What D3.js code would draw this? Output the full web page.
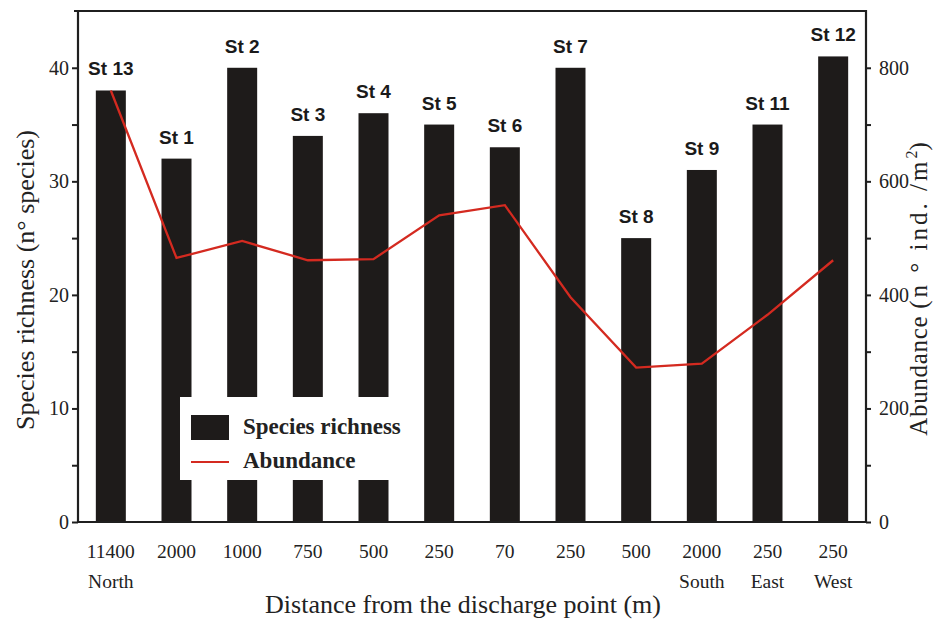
<!DOCTYPE html>
<html>
<head>
<meta charset="utf-8">
<script src="https://cdn.jsdelivr.net/npm/d3@7"></script>
<style>
  html, body { margin: 0; padding: 0; background: #fff; }
  svg { display: block; }
</style>
</head>
<body>
<svg id="chart" width="934" height="621"></svg>
<script>
// ---- data ----
const stations = ["St 13", "St 1", "St 2", "St 3", "St 4", "St 5", "St 6", "St 7", "St 8", "St 9", "St 11", "St 12"];
const distances = ["11400", "2000", "1000", "750", "500", "250", "70", "250", "500", "2000", "250", "250"];
const directions = ["North", "", "", "", "", "", "", "", "", "South", "East", "West"];
const speciesRichness = [38, 32, 40, 34, 36, 35, 33, 40, 25, 31, 35, 41];
const abundance = [760, 465, 495, 461, 463, 540, 558, 396, 272, 279, 365, 461];
const leftTicks = [0, 10, 20, 30, 40];
const leftMinor = [5, 15, 25, 35];
const rightTicks = [0, 200, 400, 600, 800];
const rightMinor = [100, 300, 500, 700];

// ---- layout ----
const L = 78, R = 866, T = 11, B = 522;
const svg = d3.select("#chart");
const axisColor = "#1f1f1f";
const barColor = "#1e1b1a";
const lineColor = "#d42a20";
const serif = "'Liberation Serif', 'Times New Roman', serif";
const sans = "'Liberation Sans', Arial, sans-serif";

const x = d3.scaleBand().domain(d3.range(stations.length)).range([L, R]).padding(0);
const barW = 30;
const yL = d3.scaleLinear().domain([0, 45]).range([B, T]);
const yR = d3.scaleLinear().domain([0, 900]).range([B, T]);
const cx = i => x(i) + x.bandwidth() / 2;

// bars
svg.append("g").selectAll("rect").data(speciesRichness).join("rect")
  .attr("x", (d, i) => cx(i) - barW / 2)
  .attr("width", barW)
  .attr("y", d => yL(d))
  .attr("height", d => yL(0) - yL(d))
  .attr("fill", barColor);

// station labels
svg.append("g").selectAll("text").data(speciesRichness).join("text")
  .attr("x", (d, i) => cx(i))
  .attr("y", d => yL(d) - 15)
  .attr("text-anchor", "middle")
  .attr("font-family", sans)
  .attr("font-weight", "bold")
  .attr("font-size", 19)
  .attr("fill", "#1a1a1a")
  .text((d, i) => stations[i]);

// abundance line
const line = d3.line().x((d, i) => cx(i)).y(d => yR(d));
svg.append("path").datum(abundance)
  .attr("d", line)
  .attr("fill", "none")
  .attr("stroke", lineColor)
  .attr("stroke-width", 2.3)
  .attr("stroke-linejoin", "miter");

// left axis
svg.append("g").attr("transform", `translate(${L},0)`)
  .call(d3.axisLeft(yL).tickValues(leftTicks).tickSize(6).tickPadding(3));
svg.append("g").attr("transform", `translate(${L},0)`)
  .call(d3.axisLeft(yL).tickValues(leftMinor).tickSize(6).tickFormat(""));
// right axis
svg.append("g").attr("transform", `translate(${R},0)`)
  .call(d3.axisRight(yR).tickValues(rightTicks).tickSize(5).tickPadding(8));
svg.append("g").attr("transform", `translate(${R},0)`)
  .call(d3.axisRight(yR).tickValues(rightMinor).tickSize(5).tickFormat(""));

svg.selectAll(".domain").remove();
svg.selectAll(".tick line").attr("stroke", axisColor).attr("stroke-width", 2);
svg.selectAll(".tick text").attr("font-family", serif).attr("font-size", 20).attr("fill", "#222");

// frame lines
svg.append("line").attr("x1", L).attr("x2", L).attr("y1", T).attr("y2", B + 1).attr("stroke", axisColor).attr("stroke-width", 2.2);
svg.append("line").attr("x1", R).attr("x2", R).attr("y1", T - 1).attr("y2", B + 1).attr("stroke", axisColor).attr("stroke-width", 2.2);
svg.append("line").attr("x1", L - 4).attr("x2", R + 1).attr("y1", T).attr("y2", T).attr("stroke", axisColor).attr("stroke-width", 2);
svg.append("line").attr("x1", L).attr("x2", R).attr("y1", B).attr("y2", B).attr("stroke", axisColor).attr("stroke-width", 2);

// x category labels
const xl = svg.append("g");
xl.selectAll("text.d").data(distances).join("text").attr("class", "d")
  .attr("x", (d, i) => cx(i)).attr("y", 558)
  .attr("text-anchor", "middle").attr("font-family", serif).attr("font-size", 19.5).attr("fill", "#222")
  .text(d => d);
xl.selectAll("text.n").data(directions).join("text").attr("class", "n")
  .attr("x", (d, i) => cx(i)).attr("y", 588)
  .attr("text-anchor", "middle").attr("font-family", serif).attr("font-size", 19.5).attr("fill", "#222")
  .text(d => d);

// axis titles
svg.append("text").attr("x", 463).attr("y", 613).attr("text-anchor", "middle")
  .attr("font-family", serif).attr("font-size", 26).attr("fill", "#222")
  .text("Distance from the discharge point (m)");
svg.append("text").attr("transform", "translate(34,280) rotate(-90)").attr("text-anchor", "middle")
  .attr("font-family", serif).attr("font-size", 26).attr("fill", "#222")
  .text("Species richness (n° species)");
const rt = svg.append("text").attr("transform", "translate(927,289) rotate(-90)").attr("text-anchor", "middle")
  .attr("font-family", serif).attr("font-size", 25).attr("fill", "#222");
rt.append("tspan").attr("letter-spacing", 0.7).text("Abundance ");
rt.append("tspan").attr("letter-spacing", 3).text("(n ° ind. /m");
rt.append("tspan").attr("dy", -10).attr("font-size", 16).text("2");
rt.append("tspan").attr("dy", 10).text(")");

// legend
const lg = svg.append("g");
lg.append("rect").attr("x", 180).attr("y", 397).attr("width", 230).attr("height", 83).attr("fill", "#fff");
lg.append("rect").attr("x", 191).attr("y", 415).attr("width", 38).attr("height", 25).attr("fill", barColor);
lg.append("line").attr("x1", 191).attr("x2", 229).attr("y1", 462).attr("y2", 462).attr("stroke", lineColor).attr("stroke-width", 2);
lg.append("text").attr("x", 243).attr("y", 434).attr("font-family", serif).attr("font-weight", "bold")
  .attr("font-size", 23).attr("fill", "#222").text("Species richness");
lg.append("text").attr("x", 243).attr("y", 468).attr("font-family", serif).attr("font-weight", "bold")
  .attr("font-size", 23).attr("fill", "#222").text("Abundance");
</script>
</body>
</html>
